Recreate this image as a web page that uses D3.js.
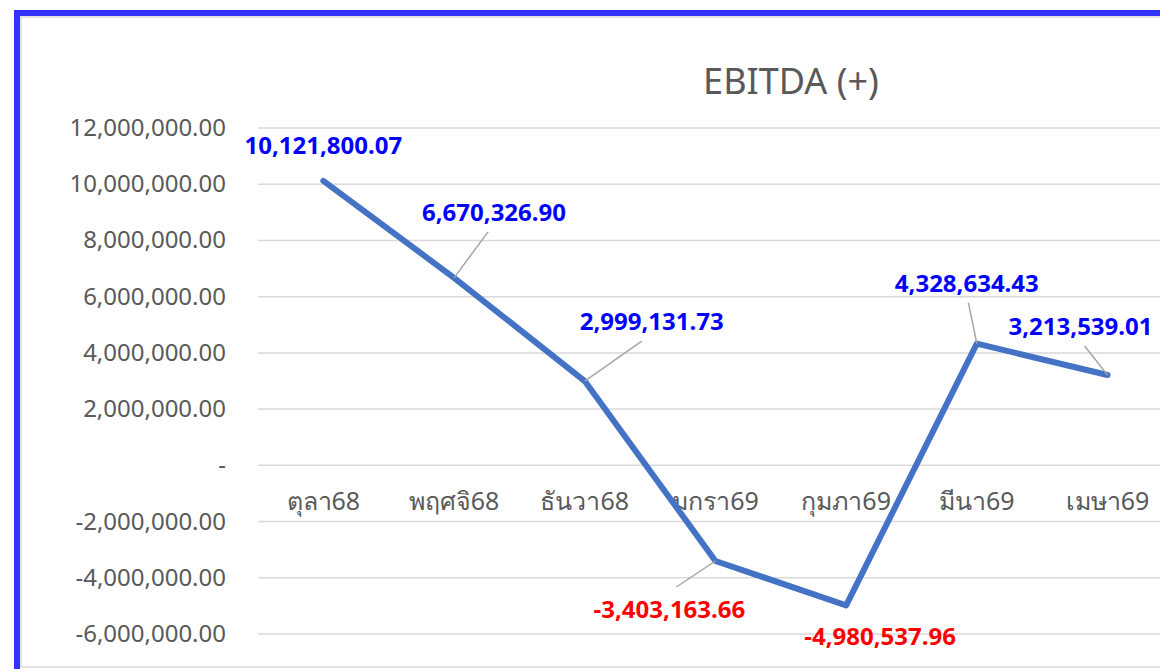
<!DOCTYPE html>
<html>
<head>
<meta charset="utf-8">
<script src="https://cdn.jsdelivr.net/npm/d3@7"></script>
<style>
  html, body { margin: 0; padding: 0; background: #fff; overflow: hidden; }
  svg { display: block; }
  text { font-family: "Noto Sans", "Open Sans", sans-serif; }
</style>
</head>
<body>
<div id="chart"></div>
<script>
// data
var months = ["ตุลา68", "พฤศจิ68", "ธันวา68", "มกรา69", "กุมภา69", "มีนา69", "เมษา69"];
var ebitda = [10121800.07, 6670326.90, 2999131.73, -3403163.66, -4980537.96, 4328634.43, 3213539.01];
var yTicks = [12000000, 10000000, 8000000, 6000000, 4000000, 2000000, 0, -2000000, -4000000, -6000000];
var chartTitle = "EBITDA (+)";

// label placement (offset from the point, px) and whether a leader line is drawn
var labelOffsets = [[0, -36, 0], [40, -66, 1], [67, -60, 1], [-46, 48, 1], [34, 31, 0], [-10, -61, 1], [-27, -49, 1]];

var width = 1160, height = 669;
var svg = d3.select("#chart").append("svg").attr("width", width).attr("height", height);

// chart frame
svg.append("rect").attr("x", 21).attr("y", 17).attr("width", 1200).attr("height", 650)
  .attr("fill", "#fff").attr("stroke", "#d9d9d9").attr("stroke-width", 1.5);
svg.append("path").attr("d", "M17,700 V13 H1200")
  .attr("fill", "none").attr("stroke", "#3333ff").attr("stroke-width", 6);

var plotLeft = 258, step = 130.7;
var x = d3.scaleBand().domain(months).range([plotLeft, plotLeft + step * months.length]);
var y = d3.scaleLinear().domain([-6000000, 12000000]).range([634, 128]);
var cx = function(d){ return x(d) + x.bandwidth() / 2; };

var fmt = d3.formatLocale({decimal: ".", thousands: ",", grouping: [3], currency: ["", ""], minus: "-"}).format(",.2f");

var points = ebitda.map(function(v, i){
  return {name: months[i], value: v, dx: labelOffsets[i][0], dy: labelOffsets[i][1], leader: labelOffsets[i][2]};
});

// title
svg.append("text").attr("x", 791).attr("y", 94).attr("text-anchor", "middle")
  .style("font-size", "36px").style("fill", "#595959").text(chartTitle);

// gridlines
svg.append("g").selectAll("line").data(yTicks).enter().append("line")
  .attr("x1", plotLeft).attr("x2", width)
  .attr("y1", function(d){ return y(d); }).attr("y2", function(d){ return y(d); })
  .attr("stroke", "#d9d9d9").attr("stroke-width", 1.5);

// y axis labels
svg.append("g").selectAll("text").data(yTicks).enter().append("text")
  .attr("x", 226).attr("y", function(d){ return y(d) + 8; })
  .attr("text-anchor", "end")
  .style("font-size", "24px").style("fill", "#595959")
  .text(function(d){ return d === 0 ? "-" : fmt(d); });

// category labels
svg.append("g").selectAll("text").data(months).enter().append("text")
  .attr("x", cx).attr("y", y(0) + 45)
  .attr("text-anchor", "middle")
  .style("font-size", "25px").style("fill", "#595959")
  .text(function(d){ return d; });

// line
var line = d3.line().x(function(d){ return cx(d.name); }).y(function(d){ return y(d.value); });
svg.append("path").datum(points).attr("d", line)
  .attr("fill", "none").attr("stroke", "#4472c4").attr("stroke-width", 6)
  .attr("stroke-linejoin", "round").attr("stroke-linecap", "round");

// leader lines
svg.append("g").selectAll("line").data(points.filter(function(d){ return d.leader; })).enter()
  .append("line")
  .attr("x1", function(d){ return cx(d.name); })
  .attr("y1", function(d){ return y(d.value); })
  .attr("x2", function(d){ return cx(d.name) + d.dx * 0.85; })
  .attr("y2", function(d){ return y(d.value) + d.dy + (d.dy < 0 ? 20 : -22); })
  .attr("stroke", "#a6a6a6").attr("stroke-width", 1.5);

// data labels
svg.append("g").selectAll("text").data(points).enter().append("text")
  .attr("x", function(d){ return cx(d.name) + d.dx; })
  .attr("y", function(d){ return y(d.value) + d.dy + 9; })
  .attr("text-anchor", "middle")
  .style("font-size", "24px").style("font-weight", "bold")
  .style("fill", function(d){ return d.value < 0 ? "#ff0000" : "#0000ff"; })
  .text(function(d){ return fmt(d.value); });
</script>
</body>
</html>
